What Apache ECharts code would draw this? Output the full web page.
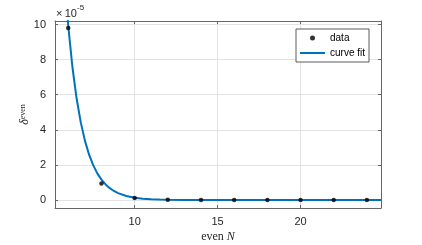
<!DOCTYPE html>
<html><head><meta charset="utf-8">
<script src="https://cdn.jsdelivr.net/npm/echarts@6/dist/echarts.min.js"></script>
<style>html,body{margin:0;padding:0;background:#fff}#c{width:422px;height:245px}</style>
</head><body><div id="c"></div>
<script>
// data points (values in units of 1e-5)
const dataN = [6, 8, 10, 12, 14, 16, 18, 20, 22, 24];
const dataV = [9.8, 0.95, 0.12, 0.02, 0.01, 0.01, 0.01, 0.01, 0.01, 0.01];
// curve fit
const fitN = [5.9, 6, 6.25, 6.5, 6.75, 7, 7.25, 7.5, 7.75, 8, 8.25, 8.5, 8.75, 9, 9.5, 10, 10.5, 11, 11.5, 12, 13, 14, 15, 16, 18, 20, 22, 24, 24.85];
const fitV = [11.0, 9.9, 7.58, 5.80, 4.44, 3.40, 2.60, 1.99, 1.52, 1.165, 0.89, 0.68, 0.52, 0.40, 0.234, 0.137, 0.080, 0.047, 0.0275, 0.016, 0.0055, 0.002, 0.001, 0, 0, 0, 0, 0, 0];
const xTicks = [10, 15, 20];
const yTicks = [0, 2, 4, 6, 8, 10];

const axisCol = '#666';
const gridCol = '#e3e3e3';
const font = 'Liberation Sans';

const chart = echarts.init(document.getElementById('c'), null, {renderer: 'canvas'});
const xMin = 5.2, xMax = 24.85, yMin = -0.45, yMax = 10.2;
const baseX = {
  type: 'value', min: xMin, max: xMax,
  axisLine: {show: true, onZero: false, lineStyle: {color: axisCol, width: 1}},
  axisTick: {show: true, inside: true, length: 3, customValues: xTicks, lineStyle: {color: axisCol}},
};
const baseY = {
  type: 'value', min: yMin, max: yMax,
  axisLine: {show: true, onZero: false, lineStyle: {color: axisCol, width: 1}},
  axisTick: {show: true, inside: true, length: 3, customValues: yTicks, lineStyle: {color: axisCol}},
};
chart.setOption({
  animation: false,
  grid: {left: 55, top: 21, width: 326, height: 187, containLabel: false, outerBoundsMode: 'none'},
  xAxis: [
    Object.assign({}, baseX, {
      position: 'bottom',
      axisLabel: {customValues: xTicks, margin: 8, color: '#262626', fontFamily: font, fontSize: 11},
      splitLine: {show: true, lineStyle: {color: gridCol, width: 1}},
      name: '{a|even }{b|N}', nameLocation: 'middle', nameGap: 23, nameMoveOverlap: false,
      nameTextStyle: {rich: {
        a: {fontFamily: 'Liberation Serif', fontSize: 12, color: '#262626'},
        b: {fontFamily: 'Liberation Serif', fontStyle: 'italic', fontSize: 12, color: '#262626'}
      }}
    }),
    Object.assign({}, baseX, {position: 'top', axisLabel: {show: false}, splitLine: {show: false}})
  ],
  yAxis: [
    Object.assign({}, baseY, {
      position: 'left',
      axisLabel: {customValues: yTicks, margin: 9, color: '#262626', fontFamily: font, fontSize: 11},
      splitLine: {show: true, lineStyle: {color: gridCol, width: 1}},
      name: '{d|δ}{s|even}', nameLocation: 'middle', nameGap: 24, nameRotate: 90, nameMoveOverlap: false,
      nameTextStyle: {rich: {
        d: {fontFamily: 'Liberation Serif', fontStyle: 'italic', fontSize: 12, color: '#262626'},
        s: {fontFamily: 'Liberation Serif', fontSize: 8, color: '#262626', verticalAlign: 'top'}
      }}
    }),
    Object.assign({}, baseY, {position: 'right', axisLabel: {show: false}, splitLine: {show: false}})
  ],
  legend: {
    show: true, orient: 'vertical', left: 296, top: 29,
    padding: [3, 4, 3, 4], itemGap: 3, itemWidth: 25, itemHeight: 5,
    borderColor: '#333', borderWidth: 0.8, backgroundColor: '#fff',
    textStyle: {fontFamily: font, fontSize: 10, color: '#000', lineHeight: 12},
    data: [
      {name: 'data', icon: 'circle'},
      {name: 'curve fit', icon: 'path://M0,0 L0.01,0 L0,0.01 Z M0,1.5 L25,1.5 L25,3.5 L0,3.5 Z M25,4.99 L25,5 L24.99,5 Z'}
    ]
  },
  graphic: [{
    type: 'text', left: 56, top: 8,
    style: {text: '×\u200910', font: '11px "Liberation Sans"', fill: '#262626'}
  }, {
    type: 'text', left: 77, top: 4,
    style: {text: '-5', font: '8px "Liberation Sans"', fill: '#262626'}
  }],
  series: [
    {
      name: 'curve fit', type: 'line', xAxisIndex: 0, yAxisIndex: 0,
      data: fitN.map((n, i) => [n, fitV[i]]),
      symbol: 'none', smooth: false, clip: true,
      lineStyle: {color: '#0072BD', width: 2}, itemStyle: {color: '#0072BD'}, z: 2
    },
    {
      name: 'data', type: 'scatter', xAxisIndex: 0, yAxisIndex: 0,
      data: dataN.map((n, i) => [n, dataV[i]]),
      symbol: 'circle', symbolSize: 4.5,
      itemStyle: {color: '#000'}, z: 3
    }
  ]
});
</script></body></html>
